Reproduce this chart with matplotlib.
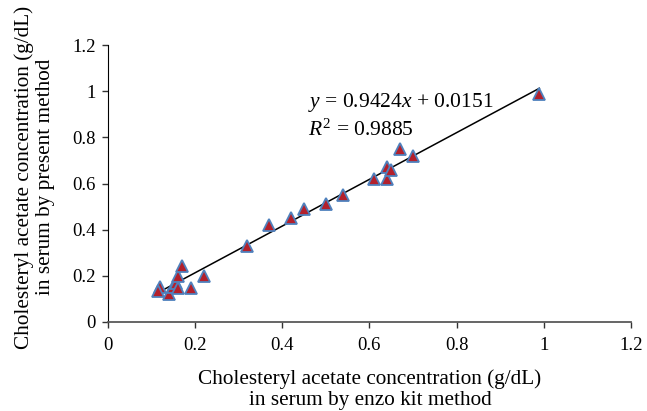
import matplotlib
matplotlib.use("Agg")
import matplotlib.pyplot as plt
import numpy as np

plt.rcParams["font.family"] = ["Liberation Serif", "DejaVu Serif"]
plt.rcParams["mathtext.fontset"] = "custom"
plt.rcParams["mathtext.rm"] = "Liberation Serif"
plt.rcParams["mathtext.it"] = "Liberation Serif:italic"

# enzo kit method (x) vs present method (y), g/dL
kit_method = [0.12, 0.115, 0.14, 0.15, 0.155, 0.16, 0.16, 0.17, 0.19, 0.22, 0.32, 0.37,
              0.42, 0.45, 0.50, 0.54, 0.61, 0.64, 0.64, 0.65, 0.67, 0.70, 0.99]
present_method = [0.15, 0.135, 0.12, 0.15, 0.17, 0.20, 0.145, 0.24, 0.145, 0.20, 0.33, 0.42,
                  0.45, 0.49, 0.51, 0.55, 0.62, 0.62, 0.67, 0.66, 0.75, 0.72, 0.99]
ticks = [0, 0.2, 0.4, 0.6, 0.8, 1, 1.2]
tick_labels = ["0", "0.2", "0.4", "0.6", "0.8", "1", "1.2"]
x_title = "Cholesteryl acetate concentration (g/dL)\nin serum by enzo kit method"
y_title = "Cholesteryl acetate concentration (g/dL)\nin serum by present method"
equation = r"$y$ = 0.9424$x$ + 0.0151"
r_squared = r"$R^2$ = 0.9885"

x = np.array(kit_method)
y = np.array(present_method)
slope, intercept = np.polyfit(x, y, 1)
xs = np.array([x.min(), x.max()])

fig = plt.figure(figsize=(6.47, 4.11), dpi=100)
ax = fig.add_axes([0.167, 0.217, 0.808, 0.673])

ax.plot(xs, slope * xs + intercept, color="black", lw=1.1, zorder=2)
ax.plot(x, y, ls="none", marker="^", ms=8, mfc="#B3202C", mec="#4F81BD", mew=1.3, zorder=3)

ax.set_xlim(0, 1.2)
ax.set_ylim(0, 1.2)
ax.set_xticks(ticks)
ax.set_xticklabels(tick_labels)
ax.set_yticks(ticks)
ax.set_yticklabels(tick_labels)
ax.tick_params(direction="out", length=4, width=1, labelsize=13.5, color="#333333")
ax.tick_params(axis="x", pad=7)
ax.tick_params(axis="y", pad=5)

for side in ["top", "right"]:
    ax.spines[side].set_visible(False)
ax.spines["left"].set_color("black")
ax.spines["bottom"].set_color("#595959")
ax.spines["bottom"].set_linewidth(1.3)

# axis titles placed by hand to sit where the original has them
fig.text(370 / 647, 1 - 390 / 411, x_title, fontsize=15.3, ha="center", va="center",
         multialignment="center", linespacing=1.15)
fig.text(35 / 647, 1 - 177 / 411, y_title, fontsize=15.3, ha="center", va="center",
         rotation=90, multialignment="center", linespacing=1.15)

ax.text(0.459, 0.933, equation, fontsize=15.5, va="baseline")
ax.text(0.459, 0.808, r_squared, fontsize=15.5, va="baseline")

fig.savefig("out.png", dpi=100)
